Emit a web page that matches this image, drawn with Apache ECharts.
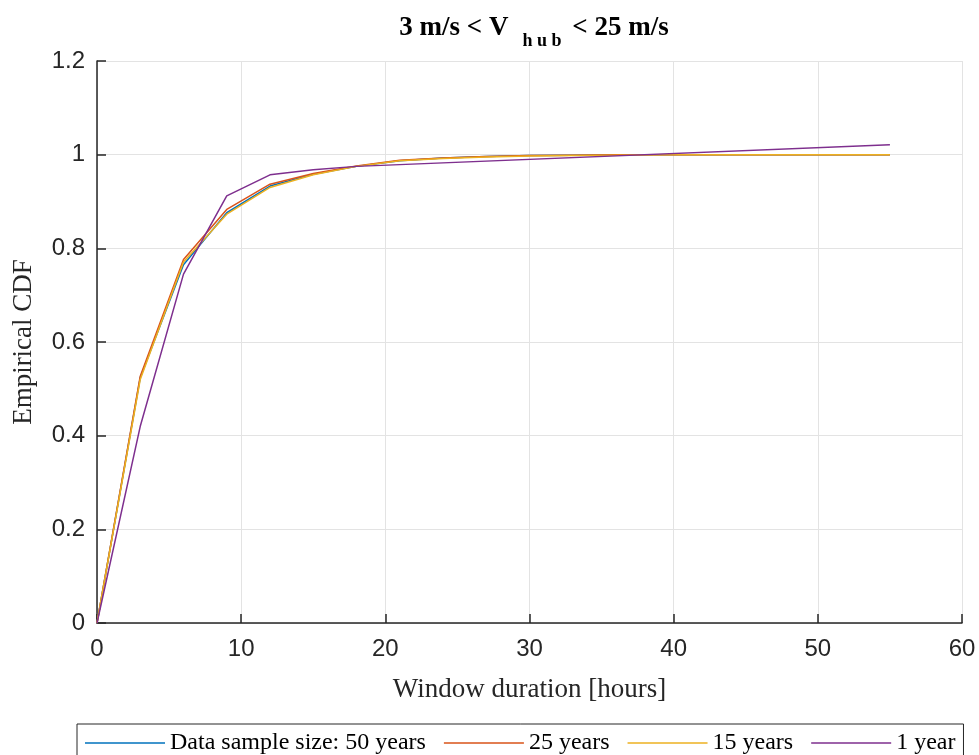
<!DOCTYPE html>
<html>
<head>
<meta charset="utf-8">
<script src="https://cdn.jsdelivr.net/npm/echarts@6/dist/echarts.min.js"></script>
<style>
html, body { margin: 0; padding: 0; background: #fff; }
#main { width: 979px; height: 755px; }
</style>
</head>
<body>
<div id="main"></div>
<script>
// window durations (hours) for the long samples
var hours = [0, 3, 6, 9, 12, 15, 18, 21, 24, 27, 30, 33, 36, 39, 42, 45, 48, 51, 54, 55];
var cdf50 = [0, 0.524, 0.765, 0.876, 0.933, 0.958, 0.975, 0.987, 0.993, 0.996, 0.998, 0.999, 1, 1, 1, 1, 1, 1, 1, 1];
var cdf25 = [0, 0.527, 0.776, 0.883, 0.937, 0.960, 0.976, 0.988, 0.993, 0.996, 0.998, 0.999, 1, 1, 1, 1, 1, 1, 1, 1];
var cdf15 = [0, 0.520, 0.771, 0.873, 0.930, 0.957, 0.975, 0.987, 0.992, 0.995, 0.997, 0.998, 0.999, 1, 1, 1, 1, 1, 1, 1];
// 1 year sample
var hours1 = [0, 3, 6, 9, 12, 15, 18, 55];
var cdf1 = [0, 0.42, 0.745, 0.912, 0.957, 0.968, 0.975, 1.021];

var seriesNames = ['Data sample size: 50 years', '25 years', '15 years', '1 year'];
var colors = ['#0072BD', '#D95319', '#EDB120', '#7E2F8E'];

function pairs(xs, ys) {
	var out = [];
	for (var i = 0; i < xs.length; i++) {
		out.push([xs[i], ys[i]]);
	}
	return out;
}

var chart = echarts.init(document.getElementById('main'));

var lineData = [pairs(hours, cdf50), pairs(hours, cdf25), pairs(hours, cdf15), pairs(hours1, cdf1)];
var series = [];
for (var i = 0; i < lineData.length; i++) {
	series.push({
		type: 'line',
		name: seriesNames[i],
		data: lineData[i],
		symbol: 'none',
		lineStyle: { width: 1.5, color: colors[i] },
		itemStyle: { color: colors[i] }
	});
}

var option = {
	animation: false,
	backgroundColor: '#fff',
	color: colors,
	title: {
		text: '3 m/s < V{sub|h u b} < 25 m/s',
		left: 529,
		textAlign: 'center',
		top: 1,
		textStyle: {
			fontFamily: 'Liberation Serif',
			fontWeight: 'bold',
			fontSize: 27,
			color: '#000',
			rich: {
				sub: {
					fontFamily: 'Liberation Serif',
					fontWeight: 'bold',
					fontSize: 18,
					color: '#000',
					padding: [26, 4, 0, 14]
				}
			}
		}
	},
	grid: {
		left: 97,
		right: 17,
		top: 61,
		bottom: 132,
		containLabel: false
	},
	xAxis: {
		type: 'value',
		min: 0,
		max: 60,
		interval: 10,
		name: 'Window duration [hours]',
		nameLocation: 'middle',
		nameGap: 53,
		nameTextStyle: {
			fontFamily: 'Liberation Serif',
			fontSize: 27,
			color: '#262626'
		},
		axisLine: { show: true, lineStyle: { color: '#262626', width: 1.5 } },
		axisTick: { show: true, inside: true, length: 9, lineStyle: { color: '#262626', width: 1.5 } },
		axisLabel: {
			margin: 14,
			fontFamily: 'Liberation Sans',
			fontSize: 24,
			color: '#262626'
		},
		splitLine: { show: true, lineStyle: { color: '#e3e3e3', width: 1 } }
	},
	yAxis: {
		type: 'value',
		min: 0,
		max: 1.2,
		interval: 0.2,
		name: 'Empirical CDF',
		nameLocation: 'middle',
		nameGap: 60,
		nameRotate: 90,
		nameTextStyle: {
			fontFamily: 'Liberation Serif',
			fontSize: 27,
			color: '#262626'
		},
		axisLine: { show: true, lineStyle: { color: '#262626', width: 1.5 } },
		axisTick: { show: true, inside: true, length: 9, lineStyle: { color: '#262626', width: 1.5 } },
		axisLabel: {
			margin: 12,
			fontFamily: 'Liberation Sans',
			fontSize: 24,
			color: '#262626'
		},
		splitLine: { show: true, lineStyle: { color: '#e3e3e3', width: 1 } }
	},
	legend: {
		data: seriesNames,
		orient: 'horizontal',
		left: 77,
		top: 724,
		padding: [7, 8, 12, 8],
		icon: 'rect',
		itemWidth: 80,
		itemHeight: 1.5,
		itemGap: 18,
		borderColor: '#262626',
		borderWidth: 1,
		backgroundColor: '#fff',
		textStyle: {
			fontFamily: 'Liberation Serif',
			fontSize: 24,
			color: '#000'
		}
	},
	series: series
};

chart.setOption(option);
</script>
</body>
</html>
